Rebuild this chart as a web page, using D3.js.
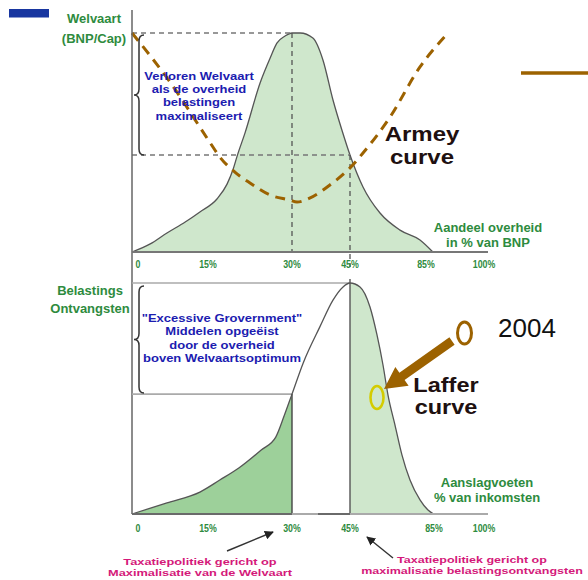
<!DOCTYPE html>
<html><head><meta charset="utf-8">
<script src="https://cdn.jsdelivr.net/npm/d3@7"></script>
<style>
html,body{margin:0;padding:0;background:#fff;}
svg{display:block;font-family:"Liberation Sans",Arial,sans-serif;}
</style></head>
<body><svg id="c" width="588" height="580"></svg>
<script>
// ---------- data ----------
const tickValues = [0, 15, 30, 45, 85, 100];
const tickLabels = ["0", "15%", "30%", "45%", "85%", "100%"];
// Welvaart (BNP/Cap) bell curve: share of government (%) -> welfare index
const welvaartX = [0,3.6,6.9,10.5,13.4,16.6,18.4,19.5,20.2,21.6,24.3,26.1,27.3,28.75,30,32.1,35.4,38,40.6,42.9,45,51.5,60,70,80,85.8];
const welvaartY = [0,3.7,8.7,13.7,18.3,24.2,31,37.9,43.8,54.3,77.2,88.6,95.4,98.6,100,100,97.7,87.7,69.4,55.7,44.3,29.7,17.8,10,5.5,0];
// Armey curve (dashed)
const armeyX = [0,7.5,15.4,17.1,19.8,22.5,26.1,29.6,31.3,34.7,39.8,45,51.5,65,80,90];
const armeyY = [100,77.6,49.8,43.4,36.5,31.5,26,23.7,22.8,24.7,30.6,38.4,45.2,61.6,84.5,100];
// Laffer curve: tax rate (%) -> revenue index
const lafferX = [0,6.9,13.4,17.1,20.5,24.5,27.1,28.6,30,32.9,37.2,40.6,43.2,45,50,55,58.5,61.5,64,67.5,71,75,80,84,86];
const lafferY = [0,4.8,9.5,14.7,19.9,27.7,33.3,42.5,51.9,65.4,81,92.6,98.3,100,98.3,89.6,77.5,64.5,51.5,38.5,25.5,14.7,6.1,1.7,0];
const welfareOptimum = 30;   // %
const revenueOptimum = 45;   // %
const welfareAtRevenueOpt = 44.3;
const revenueAtWelfareOpt = 51.9;

// ---------- scales ----------
const svg = d3.select("#c");
const x = d3.scaleLinear().domain(tickValues).range([132, 208, 292, 350, 430, 484]);
const yTop = d3.scaleLinear().domain([0, 100]).range([252, 33]);
const yBot = d3.scaleLinear().domain([0, 100]).range([514, 283]);

const green = "#2e8b3e", blue = "#1c1cb0", pink = "#d4197a", brown = "#9c6200";
const lightFill = "#cfe7cc", darkFill = "#9dd09a";

const welv = welvaartX.map((v, i) => [v, welvaartY[i]]);
const arm = armeyX.map((v, i) => [v, armeyY[i]]);
const laf = lafferX.map((v, i) => [v, lafferY[i]]);

// text helper: measure width at a "visual" size, render at a smaller size stretched to that width
function fitText(sel, visual, actual, widthScale) {
  sel.each(function () {
    const t = d3.select(this);
    t.attr("font-size", visual);
    const w = this.getComputedTextLength() * (widthScale || 1);
    t.attr("font-size", actual).attr("textLength", w).attr("lengthAdjust", "spacingAndGlyphs");
  });
}

// ---------- top panel ----------
const areaTop = d3.area().x(d => x(d[0])).y0(yTop(0)).y1(d => yTop(d[1])).curve(d3.curveMonotoneX);
const lineTop = d3.line().x(d => x(d[0])).y(d => yTop(d[1])).curve(d3.curveMonotoneX);
svg.append("path").attr("d", areaTop(welv)).attr("fill", lightFill);
svg.append("path").attr("d", lineTop(welv)).attr("fill", "none").attr("stroke", "#555").attr("stroke-width", 1.3);

// dashed guides
const dash = "5,4";
svg.append("line").attr("x1", x(0)).attr("x2", x(welfareOptimum)).attr("y1", yTop(100)).attr("y2", yTop(100))
  .attr("stroke", "#777").attr("stroke-width", 1.3).attr("stroke-dasharray", dash);
svg.append("line").attr("x1", x(0)).attr("x2", x(revenueOptimum)).attr("y1", yTop(welfareAtRevenueOpt)).attr("y2", yTop(welfareAtRevenueOpt))
  .attr("stroke", "#777").attr("stroke-width", 1.3).attr("stroke-dasharray", dash);
svg.append("line").attr("x1", x(welfareOptimum)).attr("x2", x(welfareOptimum)).attr("y1", yTop(100)).attr("y2", yTop(0))
  .attr("stroke", "#555").attr("stroke-width", 1.3).attr("stroke-dasharray", dash);
svg.append("line").attr("x1", x(revenueOptimum)).attr("x2", x(revenueOptimum)).attr("y1", yTop(welfareAtRevenueOpt)).attr("y2", yTop(0) + 15)
  .attr("stroke", "#555").attr("stroke-width", 1.3).attr("stroke-dasharray", dash);

// Armey curve
svg.append("path").attr("d", lineTop(arm)).attr("fill", "none").attr("stroke", brown)
  .attr("stroke-width", 3).attr("stroke-dasharray", "10,7");

// axes
svg.append("line").attr("x1", 132).attr("x2", 132).attr("y1", 10).attr("y2", yBot(0))
  .attr("stroke", "#666").attr("stroke-width", 1.5);
svg.append("line").attr("x1", x(0)).attr("x2", 488).attr("y1", yTop(0)).attr("y2", yTop(0))
  .attr("stroke", "#777").attr("stroke-width", 2);

const tickDx = d => d === 0 ? 6 : 0;
svg.append("g").selectAll("text").data(tickValues).join("text")
  .attr("x", d => x(d) + tickDx(d) + (d === 85 ? -4 : 0)).attr("y", yTop(0) + 16).attr("text-anchor", "middle")
  .attr("font-weight", "bold").attr("fill", green)
  .text((d, i) => tickLabels[i])
  .call(fitText, 11, 11, 0.8);

// ---------- bottom panel ----------
const lineBot = d3.line().x(d => x(d[0])).y(d => yBot(d[1])).curve(d3.curveMonotoneX);
const areaBot = d3.area().x(d => x(d[0])).y0(yBot(0)).y1(d => yBot(d[1])).curve(d3.curveMonotoneX);
svg.append("path").attr("d", areaBot(laf.filter(d => d[0] <= welfareOptimum))).attr("fill", darkFill);
svg.append("path").attr("d", areaBot(laf.filter(d => d[0] >= revenueOptimum))).attr("fill", lightFill);

// guide lines
svg.append("line").attr("x1", x(0)).attr("x2", x(revenueOptimum)).attr("y1", yBot(100)).attr("y2", yBot(100))
  .attr("stroke", "#aaa").attr("stroke-width", 1.6);
svg.append("line").attr("x1", x(0)).attr("x2", x(welfareOptimum)).attr("y1", yBot(revenueAtWelfareOpt)).attr("y2", yBot(revenueAtWelfareOpt))
  .attr("stroke", "#aaa").attr("stroke-width", 1.6);
svg.append("line").attr("x1", x(welfareOptimum)).attr("x2", x(welfareOptimum)).attr("y1", yBot(revenueAtWelfareOpt)).attr("y2", yBot(0))
  .attr("stroke", "#444").attr("stroke-width", 1.4);
svg.append("line").attr("x1", x(revenueOptimum)).attr("x2", x(revenueOptimum)).attr("y1", yBot(100) - 4).attr("y2", yBot(0))
  .attr("stroke", "#555").attr("stroke-width", 1.4);

svg.append("path").attr("d", lineBot(laf)).attr("fill", "none").attr("stroke", "#555").attr("stroke-width", 1.3);

svg.append("line").attr("x1", x(0)).attr("x2", 488).attr("y1", yBot(0)).attr("y2", yBot(0))
  .attr("stroke", "#aaa").attr("stroke-width", 2);
svg.append("line").attr("x1", x(0)).attr("x2", x(welfareOptimum)).attr("y1", yBot(0)).attr("y2", yBot(0))
  .attr("stroke", "#555").attr("stroke-width", 1.5);
svg.append("line").attr("x1", 318).attr("x2", x(revenueOptimum)).attr("y1", yBot(0)).attr("y2", yBot(0))
  .attr("stroke", "#555").attr("stroke-width", 1.5);

svg.append("g").selectAll("text").data(tickValues).join("text")
  .attr("x", d => x(d) + tickDx(d) + (d === 85 ? 4 : 0)).attr("y", yBot(0) + 18).attr("text-anchor", "middle")
  .attr("font-weight", "bold").attr("fill", green)
  .text((d, i) => tickLabels[i])
  .call(fitText, 11, 11, 0.8);

// ---------- braces ----------
function brace(xc, y1, y2) {
  const ym = (y1 + y2) / 2, a = 5;
  return `M${xc + a},${y1} Q${xc},${y1} ${xc},${y1 + 6} L${xc},${ym - 6} Q${xc},${ym} ${xc - a},${ym} Q${xc},${ym} ${xc},${ym + 6} L${xc},${y2 - 6} Q${xc},${y2} ${xc + a},${y2}`;
}
svg.append("path").attr("d", brace(139, yTop(100) + 2, yTop(welfareAtRevenueOpt))).attr("fill", "none").attr("stroke", "#333").attr("stroke-width", 1.5);
svg.append("path").attr("d", brace(139, yBot(100) + 3, yBot(revenueAtWelfareOpt) - 1)).attr("fill", "none").attr("stroke", "#333").attr("stroke-width", 1.5);

// ---------- texts ----------
function lines(arr, xx, y0, dy, opts) {
  arr.forEach((t, i) => {
    const el = svg.append("text").attr("x", xx).attr("y", y0 + i * dy).attr("text-anchor", opts.anchor || "middle")
      .attr("font-weight", opts.weight || "bold").attr("fill", opts.color).text(t);
    el.call(fitText, opts.visual || opts.size, opts.size, opts.ws || 1);
  });
}
lines(["Welvaart", "(BNP/Cap)"], 94, 23, 20, {size: 13, color: green});
lines(["Verloren Welvaart", "als de overheid", "belastingen", "maximaliseert"], 199, 80, 13.2, {visual: 13, size: 11.7, color: blue});
lines(["Armey", "curve"], 422, 141, 23, {visual: 24, size: 20.5, color: "#201010"});
lines(["Aandeel overheid", "in % van BNP"], 488, 232, 14.5, {visual: 13, size: 12.8, color: green});
lines(["Belastings", "Ontvangsten"], 90, 295, 18, {size: 13, color: green});
lines(["\"Excessive Grovernment\"", "Middelen opgeëist", "door de overheid", "boven Welvaartsoptimum"], 222, 322, 13.3, {visual: 13, size: 11.8, color: blue});
lines(["Aanslagvoeten", "% van inkomsten"], 487, 487, 14.5, {visual: 13, size: 12.8, color: green});
lines(["Laffer", "curve"], 446, 392, 22, {visual: 23.5, size: 19.5, color: "#201010"});
lines(["Taxatiepolitiek gericht op", "Maximalisatie van de Welvaart"], 200, 565, 11, {visual: 12.8, size: 9.8, color: pink});
lines(["Taxatiepolitiek gericht op", "maximalisatie belastingsontvangsten"], 472, 563, 10.8, {visual: 12.5, size: 9.6, color: pink});
svg.append("text").attr("x", 498).attr("y", 337).attr("font-size", 26).attr("fill", "#111").text("2004");

// ---------- decorations ----------
svg.append("rect").attr("x", 9).attr("y", 9).attr("width", 40).attr("height", 8.5).attr("fill", "#1836a0");
svg.append("line").attr("x1", 521).attr("x2", 588).attr("y1", 73).attr("y2", 73).attr("stroke", brown).attr("stroke-width", 3.5);

svg.append("ellipse").attr("cx", 464.5).attr("cy", 333).attr("rx", 7).attr("ry", 11)
  .attr("fill", "none").attr("stroke", brown).attr("stroke-width", 3);
svg.append("ellipse").attr("cx", 377).attr("cy", 397.5).attr("rx", 6.5).attr("ry", 11.5)
  .attr("fill", "none").attr("stroke", "#d4cc00").attr("stroke-width", 2.6);

// big brown arrow
function fatArrow(x0, y0, x1, y1, hw, headL, headW) {
  const dx = x1 - x0, dy = y1 - y0, L = Math.hypot(dx, dy);
  const ux = dx / L, uy = dy / L, nx = -uy, ny = ux;
  const bx = x1 - ux * headL, by = y1 - uy * headL;
  const p = [
    [x0 + nx * hw, y0 + ny * hw], [bx + nx * hw, by + ny * hw], [bx + nx * headW, by + ny * headW],
    [x1, y1], [bx - nx * headW, by - ny * headW], [bx - nx * hw, by - ny * hw], [x0 - nx * hw, y0 - ny * hw]
  ];
  return "M" + p.map(q => q.join(",")).join("L") + "Z";
}
svg.append("path").attr("d", fatArrow(452, 341, 384, 389, 4.5, 22, 11.5)).attr("fill", brown);

// thin black arrows
const defs = svg.append("defs");
defs.append("marker").attr("id", "ah").attr("viewBox", "0 0 10 10").attr("refX", 9).attr("refY", 5)
  .attr("markerWidth", 9).attr("markerHeight", 9).attr("markerUnits", "userSpaceOnUse").attr("orient", "auto")
  .append("path").attr("d", "M0,0L10,5L0,10Z").attr("fill", "#222");
svg.append("line").attr("x1", 227).attr("y1", 551).attr("x2", 273).attr("y2", 532)
  .attr("stroke", "#333").attr("stroke-width", 1.4).attr("marker-end", "url(#ah)");
svg.append("line").attr("x1", 393).attr("y1", 558).attr("x2", 367).attr("y2", 537)
  .attr("stroke", "#333").attr("stroke-width", 1.4).attr("marker-end", "url(#ah)");
</script>
</body></html>
